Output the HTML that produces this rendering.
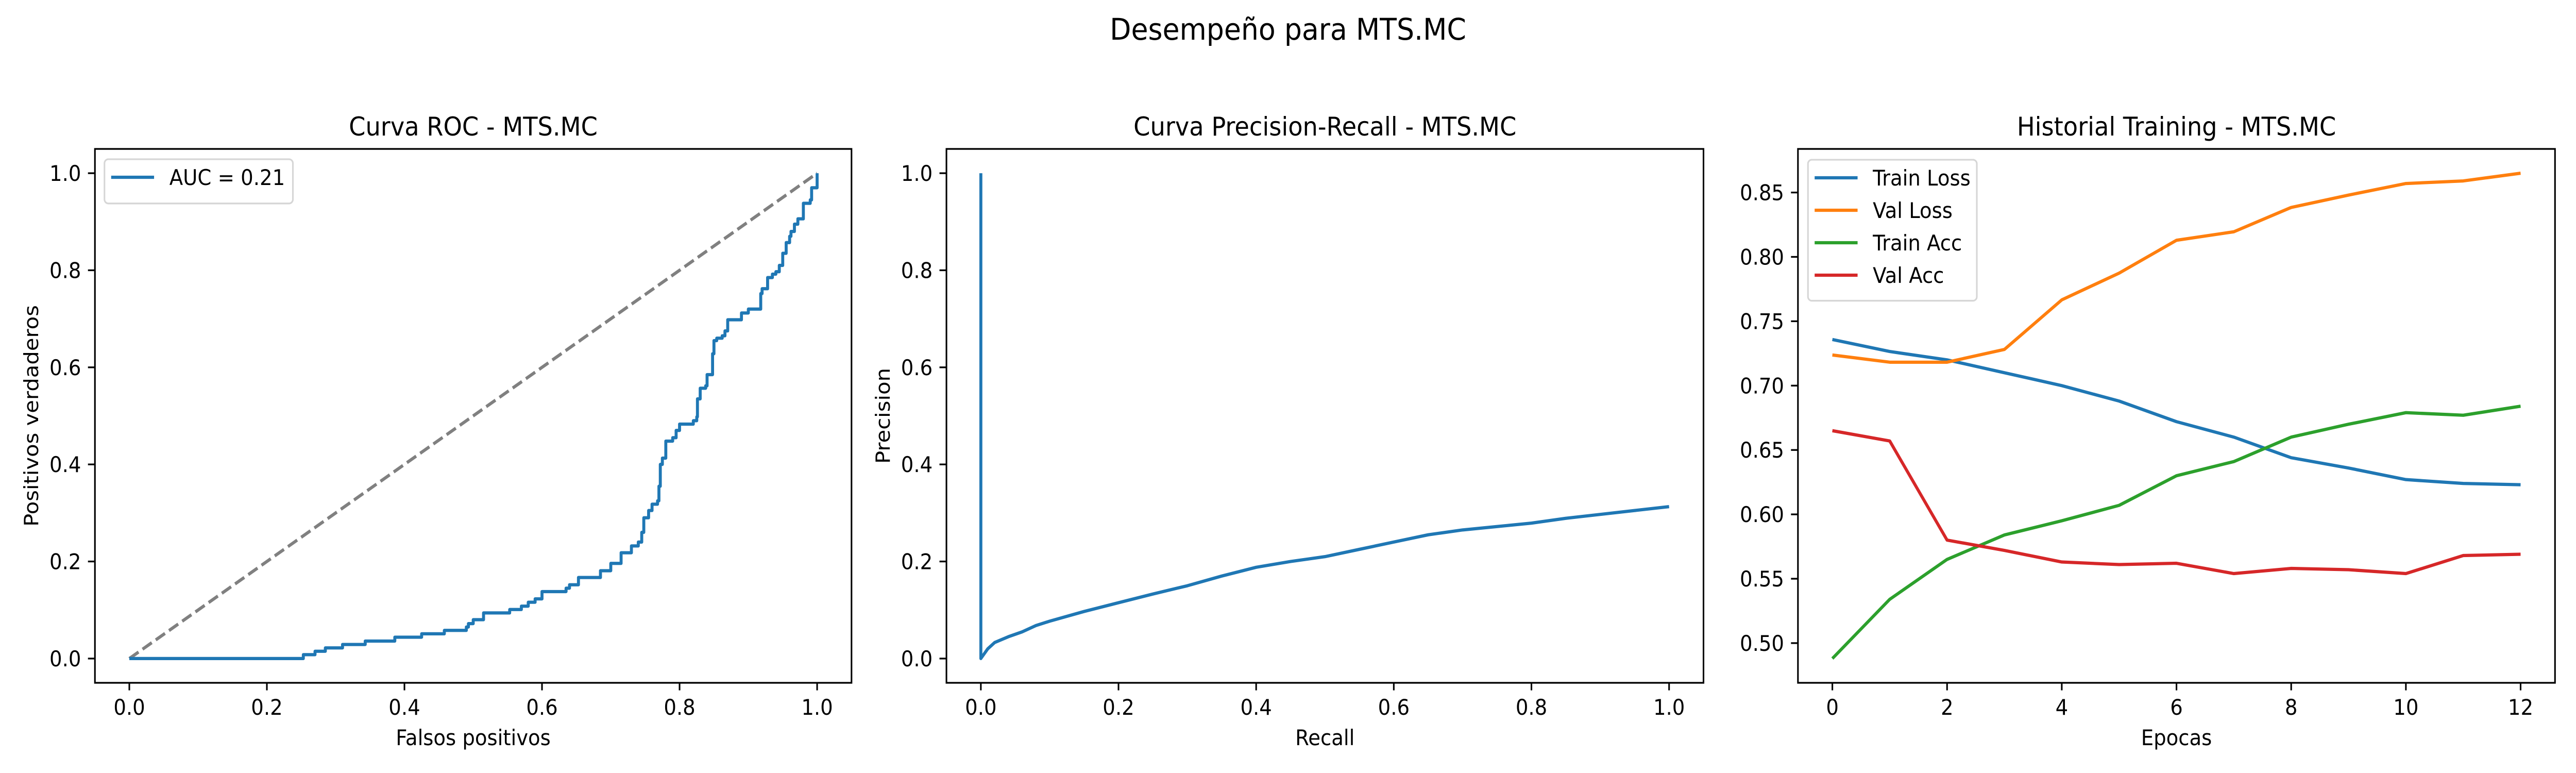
<!DOCTYPE html>
<html><head><meta charset="utf-8">
<meta name="viewport" content="width=5400, initial-scale=1">
<style>
html,body{margin:0;padding:0;background:#fff;overflow:hidden;width:100vw;height:100vh;}
svg{display:block;width:100vw;height:100vh;font-family:"DejaVu Sans","Liberation Sans",sans-serif;}
</style></head>
<body>
<svg id="fig" viewBox="0 0 5400 1500" preserveAspectRatio="none" xmlns="http://www.w3.org/2000/svg">
<rect width="5400" height="1500" fill="#fff"/>
<text x="2700" y="77" font-size="58" text-anchor="middle">Desempeño para MTS.MC</text>
<g id="g-roc"></g>
<g id="g-pr"></g>
<g id="g-hist"></g>
</svg>
<script>
// ROC data
const rocFpr = [0,0.253,0.253,0.27,0.27,0.285,0.285,0.31,0.31,0.343,0.343,0.386,0.386,0.425,0.425,0.458,0.458,0.49,0.49,0.493,0.493,0.5,0.5,0.515,0.515,0.553,0.553,0.57,0.57,0.58,0.58,0.59,0.59,0.6,0.6,0.635,0.635,0.64,0.64,0.653,0.653,0.685,0.685,0.7,0.7,0.715,0.715,0.73,0.73,0.74,0.74,0.745,0.745,0.748,0.748,0.755,0.755,0.76,0.76,0.768,0.768,0.77,0.77,0.772,0.772,0.775,0.775,0.78,0.78,0.79,0.79,0.795,0.795,0.8,0.8,0.82,0.82,0.825,0.825,0.826,0.826,0.83,0.83,0.838,0.838,0.84,0.84,0.848,0.848,0.85,0.85,0.854,0.854,0.862,0.862,0.866,0.866,0.87,0.87,0.89,0.89,0.9,0.9,0.918,0.918,0.92,0.92,0.928,0.928,0.935,0.935,0.94,0.94,0.945,0.945,0.95,0.95,0.955,0.955,0.96,0.96,0.962,0.962,0.967,0.967,0.972,0.972,0.98,0.98,0.99,0.99,0.992,0.992,1.0,1.0];
const rocTpr = [0,0,0.008,0.008,0.015,0.015,0.022,0.022,0.029,0.029,0.036,0.036,0.044,0.044,0.051,0.051,0.058,0.058,0.065,0.065,0.072,0.072,0.080,0.080,0.094,0.094,0.101,0.101,0.108,0.108,0.116,0.116,0.123,0.123,0.138,0.138,0.145,0.145,0.152,0.152,0.167,0.167,0.181,0.181,0.196,0.196,0.218,0.218,0.232,0.232,0.240,0.240,0.26,0.26,0.29,0.29,0.305,0.305,0.318,0.318,0.325,0.325,0.355,0.355,0.40,0.40,0.413,0.413,0.448,0.448,0.455,0.455,0.470,0.470,0.483,0.483,0.49,0.49,0.498,0.498,0.535,0.535,0.557,0.557,0.562,0.562,0.585,0.585,0.628,0.628,0.655,0.655,0.66,0.66,0.665,0.665,0.675,0.675,0.698,0.698,0.712,0.712,0.720,0.720,0.752,0.752,0.762,0.762,0.785,0.785,0.792,0.792,0.797,0.797,0.81,0.81,0.835,0.835,0.857,0.857,0.87,0.87,0.88,0.88,0.895,0.895,0.906,0.906,0.938,0.938,0.945,0.945,0.97,0.97,1.0];
const rocTicks = [0,0.2,0.4,0.6,0.8,1.0];
const rocTickLabels = ["0.0","0.2","0.4","0.6","0.8","1.0"];
const aucLabel = "AUC = 0.21";
// PR data
const prRecall = [0,0,0.01,0.02,0.04,0.06,0.08,0.1,0.15,0.2,0.25,0.3,0.35,0.4,0.45,0.5,0.55,0.6,0.65,0.7,0.75,0.8,0.85,0.9,0.95,1.0];
const prPrecision = [1,0,0.02,0.033,0.045,0.055,0.068,0.077,0.097,0.115,0.133,0.15,0.17,0.188,0.2,0.21,0.225,0.24,0.255,0.265,0.272,0.279,0.289,0.297,0.305,0.313];
// Training history
const epochs = [0,1,2,3,4,5,6,7,8,9,10,11,12];
const trainLoss = [0.7358,0.7265,0.72,0.71,0.70,0.688,0.672,0.66,0.644,0.636,0.627,0.624,0.623];
const valLoss = [0.7238,0.7182,0.7182,0.7281,0.7666,0.7874,0.8129,0.8195,0.8384,0.848,0.857,0.859,0.865];
const trainAcc = [0.488,0.534,0.565,0.584,0.595,0.607,0.630,0.641,0.660,0.670,0.679,0.677,0.684];
const valAcc = [0.665,0.657,0.580,0.572,0.563,0.561,0.562,0.554,0.558,0.557,0.554,0.568,0.569];
const histXTicks = [0,2,4,6,8,10,12];
const histYTicks = [0.50,0.55,0.60,0.65,0.70,0.75,0.80,0.85];
const histSeriesNames = ["Train Loss","Val Loss","Train Acc","Val Acc"];

const NS = "http://www.w3.org/2000/svg";
const TOP = 289, BOT = 1325, FS = 41.7;
function mk(parent, tag, attrs, text){
  const e = document.createElementNS(NS, tag);
  for (const k in attrs) e.setAttribute(k, attrs[k]);
  if (text !== undefined) e.textContent = text;
  parent.appendChild(e);
  return e;
}
function scale(d0,d1,r0,r1){return v => r0 + (v-d0)/(d1-d0)*(r1-r0);}
function pathFrom(xs, ys, sx, sy){
  return xs.map((x,i)=>(i?"L":"M")+sx(x).toFixed(2)+","+sy(ys[i]).toFixed(2)).join(" ");
}
function axes(g, L, R, sx, sy, xt, xl, yt, yl, title, xlabel, ylabel, ylabX){
  for (let i=0;i<xt.length;i++){
    const x = sx(xt[i]);
    const t = mk(g,"line",{x1:x,x2:x,y1:BOT,y2:BOT+14.6,stroke:"#000","stroke-width":3.33});
    
    
    const l = mk(g,"text",{x:x,y:1387,"font-size":FS,"text-anchor":"middle"},xl[i]);
    
    
  }
  for (let i=0;i<yt.length;i++){
    const y = sy(yt[i]);
    const t = mk(g,"line",{x1:L-14.6,x2:L,y1:y,y2:y,stroke:"#000","stroke-width":3.33});
    
    
    const l = mk(g,"text",{x:L-29,y:y+15,"font-size":FS,"text-anchor":"end"},yl[i]);
    
    
  }
  const fr = mk(g,"rect",{x:L,y:TOP,width:R-L,height:BOT-TOP,fill:"none",stroke:"#000","stroke-width":3.33});
  
  
  const tt = mk(g,"text",{x:(L+R)/2,y:263,"font-size":50,"text-anchor":"middle"},title);
  
  
  if (xlabel){
    const xa = mk(g,"text",{x:(L+R)/2,y:1446,"font-size":FS,"text-anchor":"middle"},xlabel);
    
    
  }
  if (ylabel){
    const cy=(TOP+BOT)/2;
    const ya = mk(g,"text",{x:ylabX,y:cy,"font-size":FS,"text-anchor":"middle",transform:"rotate(-90 "+ylabX+" "+cy+")"},ylabel);
    
    
  }
}
function legend(g, x, y, w, entries){
  const h = 32 + entries.length*62.6 - 20.8 + 12;
  const b = mk(g,"rect",{x:x,y:y,width:w,height:h,rx:8,fill:"#fff","fill-opacity":0.8,stroke:"#d6d6d6","stroke-width":3.33});
  
  
  entries.forEach((e,i)=>{
    const ly = y + 35 + i*63;
    const ln = mk(g,"line",{x1:x+14,x2:x+104,y1:ly,y2:ly,stroke:e.c,"stroke-width":6.25});
    
    
    const t = mk(g,"text",{x:x+136,y:ly+15,"font-size":FS},e.t);
    
    
  });
}

// ROC panel
(function(){
  const g = document.getElementById("g-roc");
  const L=199,R=1785;
  const sx = scale(-0.05,1.05,L,R), sy = scale(-0.05,1.05,BOT,TOP);
  axes(g,L,R,sx,sy,rocTicks,rocTickLabels,rocTicks,rocTickLabels,"Curva ROC - MTS.MC","Falsos positivos","Positivos verdaderos",80);
  const d = mk(g,"path",{d:pathFrom([0,1],[0,1],sx,sy),stroke:"#808080","stroke-width":6.25,fill:"none","stroke-dasharray":"23.1 10"});
  
  
  const p = mk(g,"path",{d:pathFrom(rocFpr,rocTpr,sx,sy),stroke:"#1f77b4","stroke-width":6.25,fill:"none","stroke-linejoin":"round"});
  
  
  legend(g,219,309,395,[{t:aucLabel,c:"#1f77b4"}]);
})();

// PR panel
(function(){
  const g = document.getElementById("g-pr");
  const L=1984,R=3571;
  const sx = scale(-0.05,1.05,L,R), sy = scale(-0.05,1.05,BOT,TOP);
  axes(g,L,R,sx,sy,rocTicks,rocTickLabels,rocTicks,rocTickLabels,"Curva Precision-Recall - MTS.MC","Recall","Precision",1865);
  const p = mk(g,"path",{d:pathFrom(prRecall,prPrecision,sx,sy),stroke:"#1f77b4","stroke-width":6.25,fill:"none","stroke-linejoin":"round"});
  
  
})();

// History panel
(function(){
  const g = document.getElementById("g-hist");
  const L=3769,R=5356;
  const all = trainLoss.concat(valLoss,trainAcc,valAcc);
  const mn = Math.min(...all), mx = Math.max(...all), m=(mx-mn)*0.05;
  const xm = (epochs[epochs.length-1]-epochs[0])*0.05;
  const sx = scale(epochs[0]-xm,epochs[epochs.length-1]+xm,L,R), sy = scale(mn-m,mx+m,BOT,TOP);
  axes(g,L,R,sx,sy,histXTicks,histXTicks.map(String),histYTicks,histYTicks.map(v=>v.toFixed(2)),"Historial Training - MTS.MC","Epocas",null,0);
  const series=[trainLoss,valLoss,trainAcc,valAcc];
  const colors=["#1f77b4","#ff7f0e","#2ca02c","#d62728"];
  const names=["train-loss-line","val-loss-line","train-acc-line","val-acc-line"];
  series.forEach((s,i)=>{
    const p = mk(g,"path",{d:pathFrom(epochs,s,sx,sy),stroke:colors[i],"stroke-width":6.25,fill:"none","stroke-linejoin":"round"});
    
    
  });
  legend(g,3790,310,354,histSeriesNames.map((t,i)=>({t:t,c:colors[i]})));
})();
</script>
</body></html>
